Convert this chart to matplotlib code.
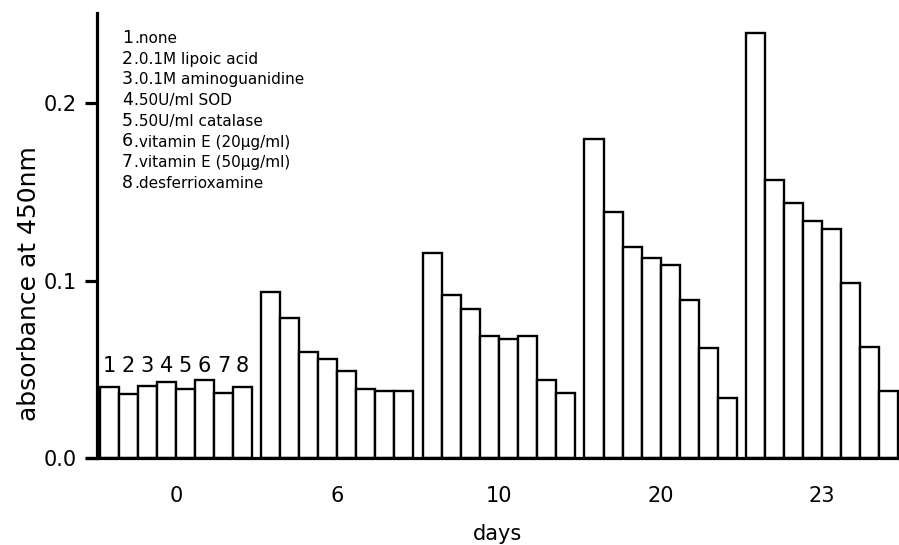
import numpy as np
import matplotlib.pyplot as plt

plt.rcParams['font.family'] = ['DejaVu Sans']

# data
days = ['0', '6', '10', '20', '23']
treatments = ['none', '0.1M lipoic acid', '0.1M aminoguanidine', '50U/ml SOD',
              '50U/ml catalase', 'vitamin E (20µg/ml)', 'vitamin E (50µg/ml)',
              'desferrioxamine']

day0 = [0.040, 0.036, 0.041, 0.043, 0.039, 0.044, 0.037, 0.040]
day6 = [0.094, 0.079, 0.060, 0.056, 0.049, 0.039, 0.038, 0.038]
day10 = [0.116, 0.092, 0.084, 0.069, 0.067, 0.069, 0.044, 0.037]
day20 = [0.180, 0.139, 0.119, 0.113, 0.109, 0.089, 0.062, 0.034]
day23 = [0.240, 0.157, 0.144, 0.134, 0.129, 0.099, 0.063, 0.038]
absorbance = [day0, day6, day10, day20, day23]

W, H = 899, 545
fig = plt.figure(figsize=(W / 100, H / 100), dpi=100)
ax = fig.add_axes([87 / W, (H - 458.3) / H, (W - 87) / W, (458.3 - 13) / H])

n = len(treatments)
step = n + 0.5  # gap of half a bar between days
centers = []
for g, vals in enumerate(absorbance):
    x = g * step + np.arange(n)
    ax.bar(x, vals, width=1.0, color='white', edgecolor='black', linewidth=1.7)
    centers.append(x.mean())

# numbers over the day-0 bars
for i in range(n):
    ax.text(i, 0.0488, str(i + 1), ha='center', va='baseline', fontsize=15)

ax.set_xlim(-1.18, 41.55)
ax.set_ylim(0, 0.251)
ax.set_xticks(centers)
ax.set_xticklabels(days)
ax.set_yticks([0.0, 0.1, 0.2])
ax.set_yticklabels(['0.0', '0.1', '0.2'])

for s in ['top', 'right']:
    ax.spines[s].set_visible(False)
ax.spines['left'].set_position(('data', -0.673))
ax.spines['left'].set_linewidth(2.3)
ax.spines['bottom'].set_linewidth(2.3)

ax.tick_params(axis='y', length=9, width=2.3, pad=5, labelsize=15)
ax.tick_params(axis='x', length=0, pad=20, labelsize=15)

ax.set_ylabel('absorbance at 450nm', fontsize=18)
ax.yaxis.set_label_coords(-0.057, 0.3925)
ax.set_xlabel('days', fontsize=15)
ax.xaxis.set_label_coords(0.506, -0.148)

# legend list in the top-left corner
for i, name in enumerate(treatments):
    y = 1 - (43 + 20.7 * i) / H
    fig.text(122 / W, y, str(i + 1), fontsize=12.5, va='baseline')
    fig.text(134 / W, y, '.' + name, fontsize=11, va='baseline')

fig.savefig('out.png', dpi=100)
